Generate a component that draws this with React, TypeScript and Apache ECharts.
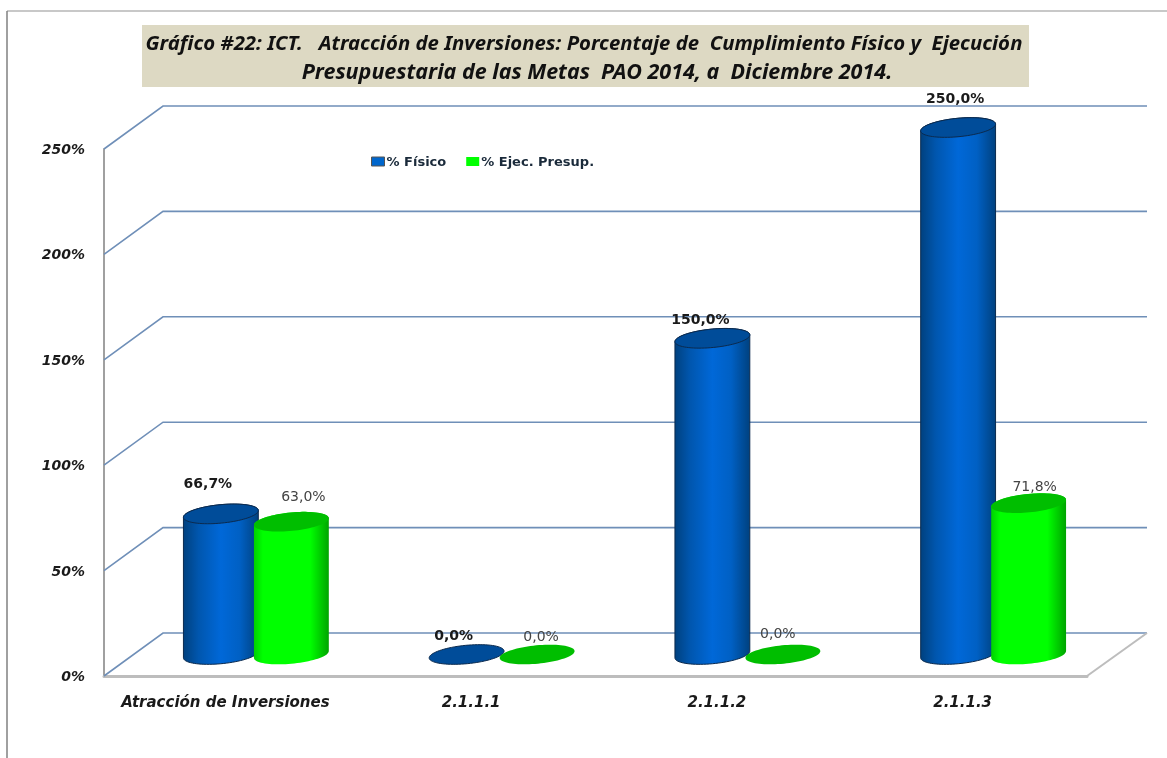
import React, { useEffect, useRef } from "react";
import * as echarts from "echarts";

const categories = ["Atracción de Inversiones", "2.1.1.1", "2.1.1.2", "2.1.1.3"];
const fisico = [66.7, 0, 150, 250];
const ejecucion = [63, 0, 0, 71.8];
const yTicks = [0, 50, 100, 150, 200, 250];
const fisicoLabels = ["66,7%", "0,0%", "150,0%", "250,0%"];
const ejecucionLabels = ["63,0%", "0,0%", "0,0%", "71,8%"];
const titleLine1 = "Gráfico #22: ICT.   Atracción de Inversiones: Porcentaje de  Cumplimiento Físico y  Ejecución";
const titleLine2 = "Presupuestaria de las Metas  PAO 2014, a  Diciembre 2014.";

// Layout of the pseudo-3D box (pixels)
const DEPTH_X = 59;
const DEPTH_Y = 43;
const MID_X = 29.5;
const MID_Y = 21.5;
const RX = 37.6;
const RY = 9.2;
const TILT = (-5.5 * Math.PI) / 180;
const fisicoLabelShift = [[-13, -31], [-13, -20], [-12, -19], [-3, -30]];
const ejecucionLabelShift = [[12, -26], [4, -19], [-5, -22], [6, -17]];

function ellipsePoint(cx: number, cy: number, t: number) {
  return [
    cx + RX * Math.cos(t) * Math.cos(TILT) - RY * Math.sin(t) * Math.sin(TILT),
    cy + RX * Math.cos(t) * Math.sin(TILT) + RY * Math.sin(t) * Math.cos(TILT),
  ];
}

function cylinderRenderer(opts: {
  offset: number;
  stops: { offset: number; color: string }[];
  top: string;
  stroke: string;
  labels: string[];
  shifts: number[][];
  labelColor: string;
  labelWeight: string;
}) {
  return (params: any, api: any) => {
    const i = api.value(0);
    const v = api.value(1);
    const p = api.coord([i, v]);
    const p0 = api.coord([i, 0]);
    const cx = p[0] + MID_X + opts.offset;
    const topY = p[1] - MID_Y;
    const baseY = p0[1] - MID_Y;
    const t0 = Math.atan2(-RY * Math.sin(TILT), RX * Math.cos(TILT));
    const pts: number[][] = [];
    const N = 40;
    for (let k = 0; k <= N; k++) pts.push(ellipsePoint(cx, baseY, t0 + (Math.PI * k) / N));
    for (let k = 0; k <= N; k++) pts.push(ellipsePoint(cx, topY, t0 + Math.PI + (Math.PI * k) / N));
    const topPts: number[][] = [];
    for (let k = 0; k < 2 * N; k++) topPts.push(ellipsePoint(cx, topY, (Math.PI * k) / N));
    const children: any[] = [];
    if (v > 0) {
      children.push({
        type: "polygon",
        shape: { points: pts },
        style: {
          fill: new echarts.graphic.LinearGradient(0, 0, 1, 0, opts.stops),
          stroke: opts.stroke,
          lineWidth: opts.stroke === "none" ? 0 : 1,
        },
      });
    }
    children.push({
      type: "polygon",
      shape: { points: topPts },
      style: {
        fill: opts.top,
        stroke: opts.stroke,
        lineWidth: opts.stroke === "none" ? 0 : 1,
      },
    });
    const shift = opts.shifts[i];
    children.push({
      type: "text",
      style: {
        x: cx + shift[0],
        y: topY + shift[1],
        text: opts.labels[i],
        align: "center",
        verticalAlign: "middle",
        font: `${opts.labelWeight} 14px "DejaVu Sans"`,
        fill: opts.labelColor,
      },
    });
    return { type: "group", children };
  };
}

function wallRenderer(params: any, api: any) {
  const cs = params.coordSys;
  const y = api.coord([0, api.value(0)])[1];
  return {
    type: "polyline",
    shape: {
      points: [
        [cs.x, y],
        [cs.x + DEPTH_X, y - DEPTH_Y],
        [cs.x + cs.width + DEPTH_X + 1, y - DEPTH_Y],
      ],
    },
    style: { stroke: "#6F8FB8", lineWidth: 1.6, fill: "none" },
  };
}

function floorRenderer(params: any, api: any) {
  const cs = params.coordSys;
  const y = api.coord([0, 0])[1];
  return {
    type: "line",
    shape: {
      x1: cs.x + cs.width,
      y1: y,
      x2: cs.x + cs.width + DEPTH_X + 1,
      y2: y - DEPTH_Y,
    },
    style: { stroke: "#BDBDBD", lineWidth: 2 },
  };
}

export default function App() {
  const ref = useRef<HTMLDivElement>(null);
  useEffect(() => {
    document.body.style.margin = "0";
    const chart = echarts.init(ref.current!, undefined, { renderer: "svg" });
    const axisFont = {
      fontFamily: "DejaVu Sans",
      fontWeight: "bold" as const,
      fontStyle: "italic" as const,
      color: "#1a1a1a",
    };
    const titleFont = {
      fontFamily: "Noto Sans",
      fontWeight: "bold" as const,
      fontStyle: "italic" as const,
      color: "#111",
    };
    chart.setOption({
      animation: false,
      backgroundColor: "#fff",
      grid: { left: 104, right: 80, top: 149, bottom: 82 },
      title: [
        {
          text: titleLine1,
          left: 584,
          top: 27,
          padding: 0,
          textAlign: "center",
          textStyle: { ...titleFont, fontSize: 20.35, lineHeight: 29 },
        },
        {
          text: titleLine2,
          left: 597,
          top: 56,
          padding: 0,
          textAlign: "center",
          textStyle: { ...titleFont, fontSize: 21.5, lineHeight: 29 },
        },
      ],
      legend: {
        left: 371,
        top: 155,
        padding: 0,
        itemWidth: 13,
        itemHeight: 9,
        itemGap: 20,
        icon: "rect",
        data: [
          { name: "% Físico", itemStyle: { color: "#0066CC", borderColor: "#555", borderWidth: 1 } },
          { name: "% Ejec. Presup.", itemStyle: { color: "#00FF00" } },
        ],
        textStyle: {
          fontFamily: "DejaVu Sans",
          fontWeight: "bold",
          fontSize: 13,
          color: "#1a2a3a",
          padding: [0, 0, 0, -3],
        },
      },
      xAxis: {
        type: "category",
        data: categories,
        axisLine: { lineStyle: { color: "#BDBDBD", width: 3 } },
        axisTick: { show: false },
        axisLabel: { ...axisFont, fontSize: 15, margin: 18, interval: 0, padding: [0, 3, 0, 0] },
      },
      yAxis: {
        type: "value",
        min: 0,
        max: 250,
        interval: 50,
        axisLine: { show: true, lineStyle: { color: "#A0A0A0", width: 2 } },
        axisTick: { show: false },
        splitLine: { show: false },
        axisLabel: { ...axisFont, fontSize: 14, margin: 19, formatter: "{value}%" },
      },
      graphic: [
        { type: "rect", z: -1, shape: { x: 142, y: 25, width: 887, height: 62 }, style: { fill: "#DDD9C3" } },
        { type: "line", shape: { x1: 7, y1: 11, x2: 1167, y2: 11 }, style: { stroke: "#C8C8C8", lineWidth: 2 } },
        { type: "line", shape: { x1: 7, y1: 11, x2: 7, y2: 758 }, style: { stroke: "#808080", lineWidth: 1.5 } },
      ],
      series: [
        {
          type: "custom",
          name: "walls",
          z: 1,
          clip: false,
          silent: true,
          data: yTicks.map((v) => [v]),
          encode: { y: 0 },
          renderItem: wallRenderer,
        },
        {
          type: "custom",
          name: "floor",
          z: 1,
          clip: false,
          silent: true,
          data: [[0]],
          encode: { y: 0 },
          renderItem: floorRenderer,
        },
        {
          type: "custom",
          name: "% Físico",
          z: 3,
          clip: false,
          data: fisico.map((v, i) => [i, v]),
          encode: { x: 0, y: 1 },
          itemStyle: { color: "#0066CC" },
          renderItem: cylinderRenderer({
            offset: -35.5,
            stops: [
              { offset: 0, color: "#00417F" },
              { offset: 0.2, color: "#0056AE" },
              { offset: 0.5, color: "#0068D8" },
              { offset: 0.75, color: "#0060C4" },
              { offset: 1, color: "#00417F" },
            ],
            top: "#004C99",
            stroke: "#0B2A4E",
            labels: fisicoLabels,
            shifts: fisicoLabelShift,
            labelColor: "#1a1a1a",
            labelWeight: "bold",
          }),
        },
        {
          type: "custom",
          name: "% Ejec. Presup.",
          z: 4,
          clip: false,
          data: ejecucion.map((v, i) => [i, v]),
          encode: { x: 0, y: 1 },
          itemStyle: { color: "#00FF00" },
          renderItem: cylinderRenderer({
            offset: 35,
            stops: [
              { offset: 0, color: "#00D000" },
              { offset: 0.12, color: "#00FF00" },
              { offset: 0.75, color: "#00FF00" },
              { offset: 1, color: "#00A400" },
            ],
            top: "#00BE00",
            stroke: "none",
            labels: ejecucionLabels,
            shifts: ejecucionLabelShift,
            labelColor: "#444",
            labelWeight: "normal",
          }),
        },
      ],
    });
    return () => chart.dispose();
  }, []);
  return (
    <div
      ref={ref}
      style={{ position: "absolute", left: 0, top: 0, width: 1167, height: 758, filter: "blur(0.5px)" }}
    />
  );
}
